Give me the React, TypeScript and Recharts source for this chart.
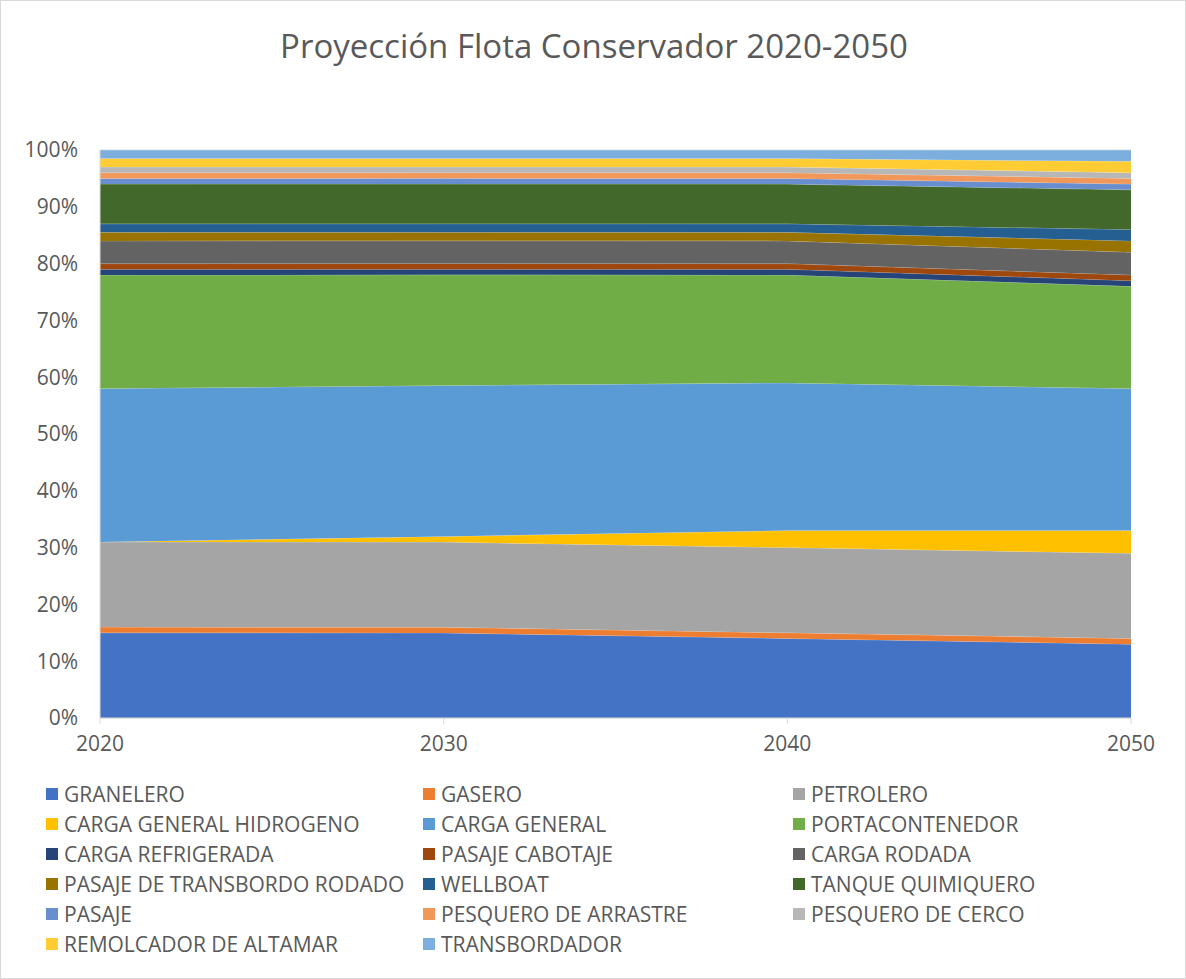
import { AreaChart, Area, XAxis, YAxis, CartesianGrid } from "recharts"

const years = [2020, 2030, 2040, 2050]

const granelero = [15, 15, 14, 13]
const gasero = [1, 1, 1, 1]
const petrolero = [15, 15, 15, 15]
const cargaHidrogeno = [0, 1, 3, 4]
const cargaGeneral = [27, 26.6, 26, 25]
const portacontenedor = [20, 19.5, 19, 18]
const cargaRefrigerada = [1, 1, 1, 1]
const pasajeCabotaje = [1, 1, 1, 1]
const cargaRodada = [4, 4, 4, 4]
const pasajeTransbordo = [1.5, 1.5, 1.5, 2]
const wellboat = [1.5, 1.5, 1.5, 2]
const tanqueQuimiquero = [7, 7, 7, 7]
const pasaje = [1, 1, 1, 1]
const pesqueroArrastre = [1, 1, 1, 1]
const pesqueroCerco = [1, 1, 1, 1]
const remolcador = [1.5, 1.5, 1.5, 2]
const transbordador = [1.5, 1.5, 1.5, 2]

const series = [
  { key: "GRANELERO", values: granelero, color: "#4472C4" },
  { key: "GASERO", values: gasero, color: "#ED7D31" },
  { key: "PETROLERO", values: petrolero, color: "#A5A5A5" },
  { key: "CARGA GENERAL HIDROGENO", values: cargaHidrogeno, color: "#FFC000" },
  { key: "CARGA GENERAL", values: cargaGeneral, color: "#5B9BD5" },
  { key: "PORTACONTENEDOR", values: portacontenedor, color: "#70AD47" },
  { key: "CARGA REFRIGERADA", values: cargaRefrigerada, color: "#264478" },
  { key: "PASAJE CABOTAJE", values: pasajeCabotaje, color: "#9E480E" },
  { key: "CARGA RODADA", values: cargaRodada, color: "#636363" },
  { key: "PASAJE DE TRANSBORDO RODADO", values: pasajeTransbordo, color: "#997300" },
  { key: "WELLBOAT", values: wellboat, color: "#255E91" },
  { key: "TANQUE QUIMIQUERO", values: tanqueQuimiquero, color: "#43682B" },
  { key: "PASAJE", values: pasaje, color: "#698ED0" },
  { key: "PESQUERO DE ARRASTRE", values: pesqueroArrastre, color: "#F1975A" },
  { key: "PESQUERO DE CERCO", values: pesqueroCerco, color: "#B7B7B7" },
  { key: "REMOLCADOR DE ALTAMAR", values: remolcador, color: "#FFCD33" },
  { key: "TRANSBORDADOR", values: transbordador, color: "#7CAFDD" },
]

const yTicks = [0, 0.1, 0.2, 0.3, 0.4, 0.5, 0.6, 0.7, 0.8, 0.9, 1]

const data = years.map((year, i) => {
  const row: Record<string, number> = { year }
  series.forEach((s) => {
    row[s.key] = s.values[i]
  })
  return row
})

const font = "'Open Sans', 'Noto Sans', sans-serif"
const textColor = "#595959"

export default function App() {
  const legendCols = [45, 422, 792]
  return (
    <div
      style={{
        position: "absolute",
        left: 0,
        top: 0,
        width: 1186,
        height: 979,
        background: "#fff",
        border: "1px solid #D9D9D9",
        boxSizing: "border-box",
        fontFamily: font,
      }}
    >
      <div
        style={{
          position: "absolute",
          left: 0,
          top: 22,
          width: 1186,
          textAlign: "center",
          fontSize: 33,
          color: textColor,
        }}
      >
        Proyección Flota Conservador 2020-2050
      </div>
      <div style={{ position: "absolute", left: -1, top: -1 }}>
        <AreaChart
          width={1186}
          height={979}
          data={data}
          stackOffset="expand"
          margin={{ top: 150, right: 55, left: 0, bottom: 231 }}
        >
          <CartesianGrid vertical={false} stroke="#D9D9D9" />
          <XAxis
            dataKey="year"
            type="number"
            domain={[2020, 2050]}
            ticks={[2020, 2030, 2040, 2050]}
            stroke="#D9D9D9"
            tickSize={6}
            tickMargin={12}
            height={30}
            tick={{ fill: textColor, fontSize: 21, fontFamily: font }}
          />
          <YAxis
            domain={[0, 1]}
            ticks={yTicks}
            width={100}
            tickLine={false}
            stroke="#D9D9D9"
            tickSize={6}
            tickMargin={16}
            tickFormatter={(v: number) => `${Math.round(v * 100)}%`}
            tick={{ fill: textColor, fontSize: 21, fontFamily: font }}
          />
          {series.map((s) => (
            <Area
              key={s.key}
              type="linear"
              dataKey={s.key}
              stackId="1"
              fill={s.color}
              fillOpacity={1}
              stroke="#ffffff"
              strokeOpacity={0.3}
              strokeWidth={1}
              isAnimationActive={false}
            />
          ))}
        </AreaChart>
      </div>
      {series.map((s, i) => {
        const col = i % 3
        const row = Math.floor(i / 3)
        return (
          <div
            key={s.key}
            style={{
              position: "absolute",
              left: legendCols[col],
              top: 779 + row * 30,
              display: "flex",
              alignItems: "center",
              fontSize: 21,
              color: textColor,
              whiteSpace: "nowrap",
              lineHeight: "28px",
            }}
          >
            <span
              style={{
                display: "inline-block",
                width: 12,
                height: 12,
                background: s.color,
                marginRight: 6,
              }}
            />
            {s.key}
          </div>
        )
      })}
    </div>
  )
}
